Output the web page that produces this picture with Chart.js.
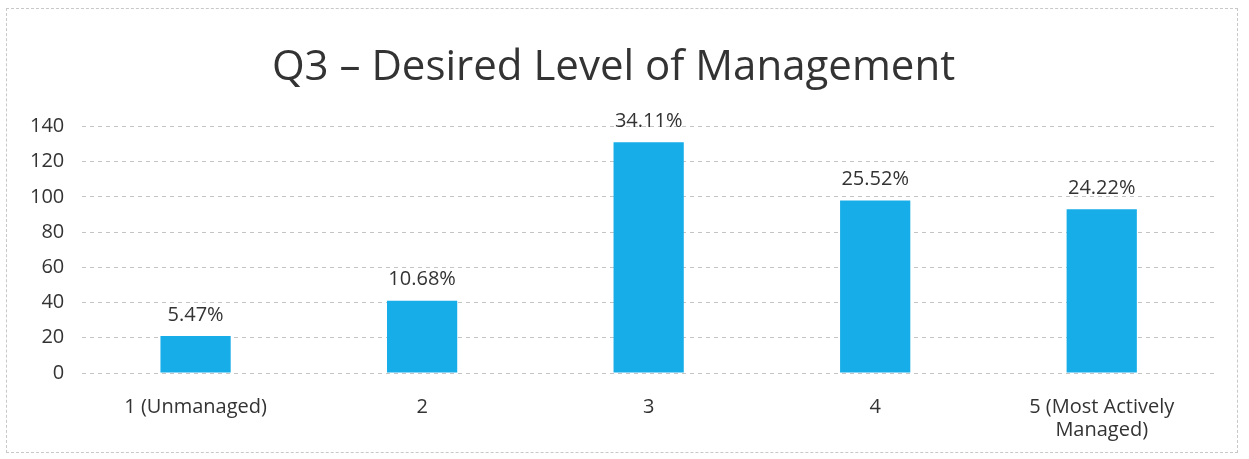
<!DOCTYPE html>
<html>
<head>
<meta charset="utf-8">
<script src="https://cdn.jsdelivr.net/npm/chart.js@4/dist/chart.umd.min.js"></script>
<style>
  html, body { margin: 0; padding: 0; background: #fff; }
  .frame {
    position: absolute; left: 6px; top: 8px; width: 1232px; height: 445px;
    border: 1px dashed #c8c8c8; box-sizing: border-box;
  }
  .wrap { position: absolute; left: 0; top: 0; width: 1249px; height: 459px; }
</style>
</head>
<body>
<div class="frame"></div>
<div class="wrap"><canvas id="chart"></canvas></div>
<script>
// ── Data ─────────────────────────────────────────────────────
const categories = [['1 (Unmanaged)'], ['2'], ['3'], ['4'], ['5 (Most Actively', 'Managed)']];
const counts     = [21, 41, 131, 98, 93];
const pctLabels  = ['5.47%', '10.68%', '34.11%', '25.52%', '24.22%'];
const yTicks     = [0, 20, 40, 60, 80, 100, 120, 140];

const FONT = "'Open Sans', 'Liberation Sans', sans-serif";

// ── Percentage labels above each bar ─────────────────────────
const barLabels = {
  id: 'barLabels',
  afterDatasetsDraw(chart) {
    const ctx = chart.ctx;
    const meta = chart.getDatasetMeta(0);
    ctx.save();
    ctx.font = '20px ' + FONT;
    ctx.fillStyle = '#333';
    ctx.textAlign = 'center';
    ctx.textBaseline = 'bottom';
    meta.data.forEach((bar, i) => {
      ctx.fillText(pctLabels[i], bar.x, bar.y - 11);
    });
    ctx.restore();
  }
};

new Chart(document.getElementById('chart'), {
  type: 'bar',
  data: {
    labels: categories,
    datasets: [{
      data: counts,
      backgroundColor: '#16ade8',
      borderWidth: 0,
      barPercentage: 0.62,
      categoryPercentage: 0.5
    }]
  },
  options: {
    responsive: true,
    maintainAspectRatio: false,
    animation: false,
    layout: { padding: { left: 12, right: 34, top: 43, bottom: 2 } },
    plugins: {
      legend: { display: false },
      tooltip: { enabled: false },
      title: {
        display: true,
        text: 'Q3 \u2013 Desired Level of Management',
        color: '#333',
        font: { family: FONT, size: 42, weight: 'normal' },
        padding: { top: 0, bottom: 33 }
      }
    },
    scales: {
      x: {
        grid: { display: false },
        border: { display: false },
        ticks: { color: '#333', font: { family: FONT, size: 20, lineHeight: 1.15 }, padding: 15, maxRotation: 0 }
      },
      y: {
        min: 0, max: 140,
        afterBuildTicks: axis => { axis.ticks = yTicks.map(v => ({ value: v })); },
        grid: { color: '#c4c4c4', lineWidth: 1, tickLength: 0 },
        border: { display: false, dash: [4, 4] },
        ticks: { color: '#333', font: { family: FONT, size: 20 }, padding: 18 }
      }
    }
  },
  plugins: [barLabels]
});
</script>
</body>
</html>
